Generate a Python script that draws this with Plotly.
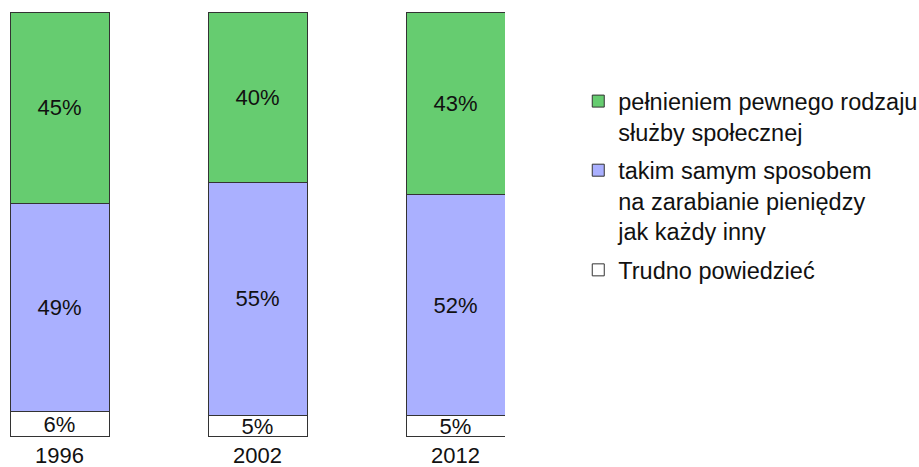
import plotly.graph_objects as go

years = ["1996", "2002", "2012"]
trudno = [6, 5, 5]
zarabianie = [49, 55, 52]
sluzba = [45, 40, 43]

names = [
    "Trudno powiedzieć",
    "takim samym sposobem<br>na zarabianie pieniędzy<br>jak każdy inny",
    "pełnieniem pewnego rodzaju<br>służby społecznej",
]
colors = ["#FFFFFF", "#AAB0FF", "#66CC70"]
ranks = [3, 2, 1]
series = [trudno, zarabianie, sluzba]

fig = go.Figure()
for i, (vals, name, col, rk) in enumerate(zip(series, names, colors, ranks)):
    fig.add_trace(go.Bar(
        x=years, y=vals, name=name,
        marker=dict(color=col, line=dict(color="#333333", width=1)),
        width=0.5,
        text=[f"{v}%" for v in vals],
        textposition="inside",
        insidetextanchor="middle",
        constraintext="none",
        cliponaxis=False,
        textfont=dict(size=22, color="#111111", family="Liberation Sans, Arial"),
        legendgroup=f"g{i}",
        legendrank=rk,
        hoverinfo="skip",
    ))

fig.update_layout(
    barmode="stack",
    width=919, height=467,
    margin=dict(l=10, r=414, t=11, b=29, autoexpand=False),
    paper_bgcolor="white", plot_bgcolor="white",
    font=dict(family="Liberation Sans, Arial", size=22, color="#111111"),
    uniformtext=dict(minsize=22, mode="show"),
    xaxis=dict(type="category", range=[-0.25, 2.25], showgrid=False, showline=False,
               ticks="", tickfont=dict(size=22), ticklabelstandoff=2, fixedrange=True),
    yaxis=dict(range=[-0.25, 100.25], visible=False, fixedrange=True),
    legend=dict(x=1.148, xanchor="left", y=0.84, yanchor="top",
                traceorder="grouped", tracegroupgap=5, valign="top",
                font=dict(size=23.5, family="Liberation Sans, Arial", color="#111111"),
                bgcolor="rgba(0,0,0,0)"),
    showlegend=True,
)

fig.write_html("out.html")
